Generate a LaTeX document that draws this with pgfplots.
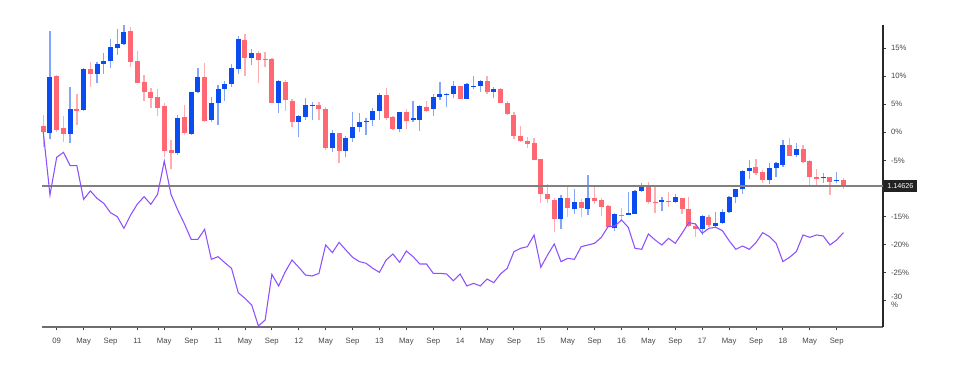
\documentclass[border=0pt]{standalone}
\usepackage{fontspec}
\setmainfont{Liberation Sans}
\usepackage{pgfplots}
\usepackage{pgfplotstable}
\pgfplotsset{compat=1.18}
\definecolor{upc}{RGB}{10,76,240}
\definecolor{dnc}{RGB}{255,104,115}
\definecolor{linec}{RGB}{140,80,255}
\definecolor{lblc}{RGB}{70,70,70}
\definecolor{tagc}{RGB}{34,34,34}

\pgfplotstableread{
x o h l c
-1 -0.18 18.0 -1.25 9.78
2 -0.3 8.12 -1.84 4.09
4 3.9 11.4 3.85 11.32
6 10.37 12.57 8.71 12.09
7 12.09 14.05 10.37 12.75
8 12.75 16.6 11.38 15.18
9 15.0 18.32 13.75 15.71
10 15.71 19.0 15.6 17.9
18 -3.74 3.08 -4.04 2.49
20 -0.3 7.23 -0.48 7.23
21 7.23 11.38 7.05 9.78
23 2.19 6.34 1.89 5.27
24 5.27 8.42 1.3 7.65
25 7.65 9.13 5.63 8.54
26 8.54 12.09 8.12 11.38
27 11.2 17.2 10.37 16.6
29 13.16 14.76 11.97 14.05
33 5.27 9.31 3.5 9.13
36 1.89 3.08 -0.9 2.9
37 2.78 6.05 2.19 4.86
38 4.68 5.45 2.19 4.86
41 -2.85 0.41 -3.44 -0.18
43 -3.27 -0.66 -4.45 -1.07
44 -1.07 3.55 -1.66 1.0
45 1.0 3.38 0.12 1.89
46 1.89 2.49 -0.48 2.07
47 2.19 4.27 1.12 3.85
48 3.85 7.05 2.19 6.64
51 0.53 3.67 0.12 3.55
53 2.19 5.57 1.89 2.49
54 2.19 4.86 0.3 4.68
56 4.09 6.82 2.96 6.22
57 6.22 9.01 5.75 6.82
58 6.7 7.05 4.56 6.85
59 6.82 9.13 6.16 8.24
61 5.93 8.83 5.9 8.54
62 8.12 10.02 7.65 8.3
63 8.24 9.31 7.23 9.13
65 7.23 8.12 6.16 7.65
75 -15.48 -11.16 -17.2 -11.75
77 -13.71 -10.15 -14.54 -12.34
79 -13.71 -7.6 -14.71 -11.75
83 -17.09 -14.42 -17.5 -14.54
85 -14.71 -10.56 -14.8 -14.3
86 -14.54 -10.3 -14.6 -10.38
87 -10.38 -9.08 -10.56 -9.55
90 -12.46 -11.45 -13.94 -12.04
92 -12.34 -10.98 -12.64 -11.57
96 -17.2 -14.71 -18.27 -14.83
98 -16.61 -14.12 -17.09 -16.2
99 -16.2 -13.7 -16.3 -14.12
100 -14.12 -11.4 -14.3 -11.45
101 -11.45 -10.1 -12.64 -10.15
102 -10.14 -6.7 -10.97 -6.82
103 -6.82 -4.93 -8.36 -6.41
106 -8.48 -5.52 -9.2 -6.41
107 -6.41 -5.22 -7.89 -5.52
108 -5.82 -1.37 -6.23 -2.26
110 -4.04 -1.96 -4.45 -3.03
114 -8.19 -7.3 -8.96 -8.01
116 -8.66 -7.0 -9.08 -8.48
}\up

\pgfplotstableread{
x o h l c
-2 1.12 3.08 -2.55 0.06
0 10.02 10.2 0.1 0.41
1 0.71 2.9 -1.66 -0.36
3 4.09 6.8 1.24 3.85
5 11.32 12.5 8.12 10.31
11 18.0 18.8 11.68 12.57
12 12.69 14.5 8.71 8.83
13 8.89 10.2 5.63 7.11
14 7.23 7.82 4.38 6.16
15 6.22 7.7 2.96 4.38
16 4.68 5.16 -4.45 -3.27
17 -3.15 -1.37 -6.59 -3.74
19 2.66 4.86 -0.48 -0.18
22 9.78 12.27 1.89 2.07
28 16.42 17.43 10.02 13.16
30 14.17 14.46 8.71 12.87
31 13.04 14.35 11.68 12.87
32 12.98 13.16 5.16 5.27
34 9.01 9.31 3.85 5.75
35 5.63 5.87 1.0 1.89
39 4.86 5.45 2.19 4.09
40 4.09 4.44 -3.15 -2.85
42 -0.18 -0.1 -5.4 -3.27
49 6.64 7.82 2.19 2.49
50 2.78 2.9 0.41 0.53
52 3.55 4.09 0.53 2.07
55 4.56 5.63 3.67 3.85
60 8.24 8.3 5.9 5.93
64 9.13 10.02 6.76 7.23
66 7.65 7.82 5.16 5.27
67 5.16 5.63 3.08 3.2
68 3.08 3.67 -1.25 -0.66
69 -0.66 1.12 -1.66 -1.49
70 -1.49 -0.9 -2.85 -2.14
71 -1.96 -1.07 -4.92 -4.92
72 -4.8 -4.8 -12.64 -10.98
73 -10.98 -9.2 -12.64 -11.93
74 -12.04 -11.75 -17.68 -15.48
76 -11.75 -9.79 -15.0 -13.53
78 -12.34 -11.93 -15.0 -13.53
80 -11.75 -9.79 -12.76 -12.16
81 -12.04 -11.75 -14.89 -13.35
82 -13.11 -12.93 -16.9 -16.79
84 -14.65 -13.52 -15.6 -14.83
88 -9.55 -8.78 -12.76 -12.34
89 -12.34 -9.79 -14.3 -12.64
91 -12.16 -10.56 -13.23 -12.34
93 -11.75 -11.7 -14.54 -13.71
94 -13.71 -11.45 -16.9 -16.67
95 -16.67 -16.08 -18.57 -17.2
97 -15.0 -14.71 -16.79 -16.49
104 -6.23 -4.81 -7.6 -7.18
105 -7.0 -6.7 -8.96 -8.48
109 -2.26 -1.07 -4.21 -4.16
111 -3.03 -2.26 -5.4 -5.22
112 -5.04 -5.0 -9.67 -8.01
113 -8.01 -6.59 -9.37 -8.25
115 -8.01 -8.0 -11.15 -8.78
117 -8.48 -8.19 -10.14 -9.67
}\down

\pgfplotstableread{
x v
-2 0.1
-1 -11.15
0 -4.45
1 -3.56
2 -5.93
3 -5.93
4 -11.93
5 -10.44
6 -11.75
7 -12.64
8 -14.3
9 -15.0
10 -17.09
11 -14.71
12 -12.76
13 -11.45
14 -12.82
15 -11.04
16 -5.11
17 -11.04
18 -13.82
19 -16.31
20 -19.04
21 -19.04
22 -17.26
23 -22.6
24 -22.13
25 -23.2
26 -24.2
27 -28.53
28 -29.54
29 -30.72
30 -34.46
31 -33.39
32 -25.27
33 -27.34
34 -24.8
35 -22.72
36 -24.02
37 -25.39
38 -25.57
39 -25.1
40 -20.05
41 -21.41
42 -19.58
43 -20.94
44 -22.24
45 -23.0
46 -23.3
47 -24.2
48 -24.91
49 -22.72
50 -21.65
51 -23.13
52 -21.12
53 -22.13
54 -23.43
55 -23.43
56 -25.09
57 -25.09
58 -25.21
59 -26.4
60 -25.21
61 -27.34
62 -26.87
63 -27.34
64 -26.1
65 -26.75
66 -25.21
67 -24.2
68 -21.24
69 -20.64
70 -20.35
71 -18.27
72 -24.02
73 -21.83
74 -19.87
75 -23.02
76 -22.42
77 -22.6
78 -20.35
79 -20.05
80 -19.75
81 -18.68
82 -16.79
83 -16.67
84 -15.6
85 -16.9
86 -20.64
87 -20.82
88 -18.09
89 -19.16
90 -20.05
91 -18.86
92 -19.75
93 -17.97
94 -16.07
95 -16.31
96 -17.97
97 -17.08
98 -16.9
99 -17.5
100 -19.28
101 -20.82
102 -20.23
103 -20.82
104 -19.63
105 -17.85
106 -18.57
107 -19.75
108 -23.0
109 -22.24
110 -21.23
111 -18.27
112 -18.68
113 -18.27
114 -18.45
115 -20.05
116 -19.16
117 -17.85
}\lin

\begin{document}
\begin{tikzpicture}
\begin{axis}[
  at={(0,0)}, anchor=south west,
  width=630.75pt, height=226.5pt, scale only axis,
  xmin=-2.186, xmax=122.89, ymin=-34.64, ymax=19.09,
  axis x line*=bottom, axis y line*=right,
  separate axis lines,
  x axis line style={draw={rgb,255:red,110;green,110;blue,110}, line width=1pt},
  y axis line style={draw={rgb,255:red,40;green,40;blue,40}, line width=0.9pt},
  xtick={0,4,...,116},
  xticklabels={09,May,Sep,11,May,Sep,11,May,Sep,12,May,Sep,13,May,Sep,14,May,Sep,15,May,Sep,16,May,Sep,17,May,Sep,18,May,Sep},
  ytick={-30,-25,-20,-15,-10,-5,0,5,10,15},
  yticklabels={{-30\\\%},-25\%,-20\%,-15\%,{},-5\%,0\%,5\%,10\%,15\%},
  tick align=outside, major tick length=2.5pt,
  tick style={draw={rgb,255:red,60;green,60;blue,60}, line width=0.7pt},
  ticklabel style={font=\fontsize{5.8}{6.4}\selectfont, text=lblc},
  xticklabel style={yshift=-2pt},
  yticklabel style={align=left},
  clip=false,
]
\addplot[draw=upc!50, line width=1pt, quiver={u=0, v=\thisrow{h}-(\thisrow{l})}] table[x=x, y=l] {\up};
\addplot[draw=dnc!55, line width=1pt, quiver={u=0, v=\thisrow{h}-(\thisrow{l})}] table[x=x, y=l] {\down};
\addplot[draw=upc, line width=3.75pt, quiver={u=0, v=\thisrow{c}-(\thisrow{o})}] table[x=x, y=o] {\up};
\addplot[draw=dnc, line width=3.75pt, quiver={u=0, v=\thisrow{c}-(\thisrow{o})}] table[x=x, y=o] {\down};
\addplot[draw={rgb,255:red,128;green,128;blue,128}, line width=1.1pt] coordinates {(-2.186,-9.56) (122.89,-9.56)};
\addplot[draw=linec, line width=0.8pt] table[x=x, y=v] {\lin};
\node[fill=tagc, text=white, anchor=west, font=\fontsize{5.4}{5.4}\selectfont, inner xsep=2.6pt, inner ysep=2.8pt, xshift=0.5pt] at (axis cs:122.89,-9.56) {1.14626};
\end{axis}
\pgfresetboundingbox
\path[use as bounding box] (-31.5pt,-32.25pt) rectangle (688.5pt,245.25pt);
\end{tikzpicture}
\end{document}
